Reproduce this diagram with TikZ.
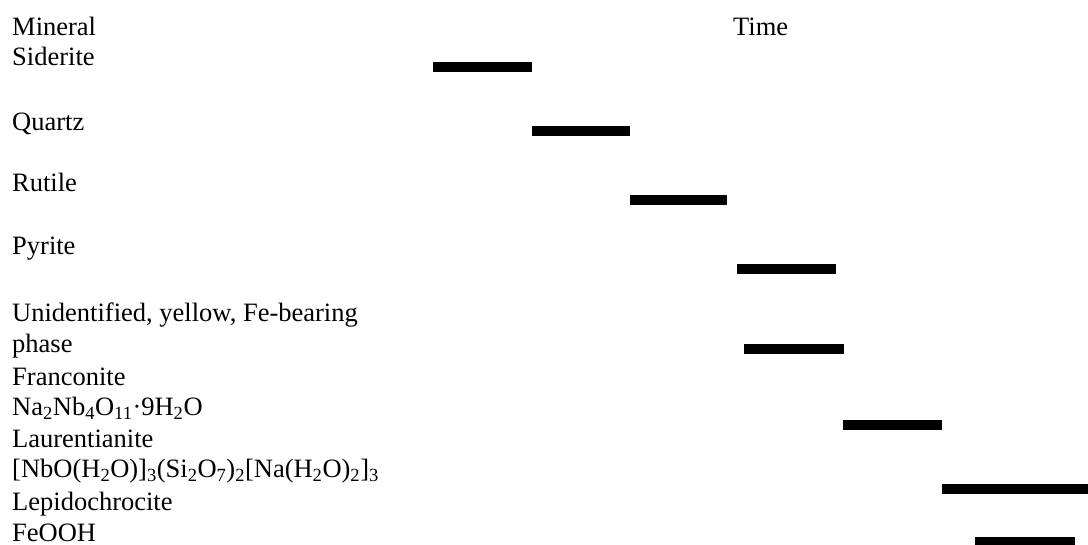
\documentclass[tikz,border=0pt]{standalone}
\usepackage{fontspec}
\setmainfont{Liberation Serif}
\newcommand\sbs[1]{\textsubscript{#1}}
\begin{document}
\begin{tikzpicture}[x=1pt,y=-1pt,
  lbl/.style={anchor=base west,inner sep=0pt,font=\fontsize{26.5}{30}\selectfont},
  bar/.style={line width=10.5pt,line cap=butt,black}]
\useasboundingbox[fill=white] (0,0) rectangle (1088,545);
% labels
\node[lbl] (mineral) at (12,36) {Mineral};
\node[lbl] (time) at (733,36) {Time};
\node[lbl] (siderite) at (12,66) {Siderite};
\node[lbl] (quartz) at (12,131) {Quartz};
\node[lbl] (rutile) at (12,192) {Rutile};
\node[lbl] (pyrite) at (12,255) {Pyrite};
\node[lbl] (unid) at (12,322) {Unidentified, yellow, Fe-bearing};
\node[lbl] (phase) at (12,353) {phase};
\node[lbl] (franc) at (12,386) {Franconite};
\node[lbl] (francf) at (12,416) {Na\sbs{2}Nb\sbs{4}O\sbs{11}·9H\sbs{2}O};
\node[lbl] (laur) at (12,447) {Laurentianite};
\node[lbl] (laurf) at (12,478) {[NbO(H\sbs{2}O)]\sbs{3}(Si\sbs{2}O\sbs{7})\sbs{2}[Na(H\sbs{2}O)\sbs{2}]\sbs{3}};
\node[lbl] (lepi) at (12,510) {Lepidochrocite};
\node[lbl] (lepif) at (12,541) {FeOOH};
% bars
\draw[bar] (433,67) -- (532,67);
\draw[bar] (532,131) -- (630,131);
\draw[bar] (630,200) -- (727,200);
\draw[bar] (737,269) -- (836,269);
\draw[bar] (744,349) -- (844,349);
\draw[bar] (843,425) -- (942,425);
\draw[bar] (942,489) -- (1088,489);
\draw[bar] (975,542) -- (1075,542);
\end{tikzpicture}
\end{document}
